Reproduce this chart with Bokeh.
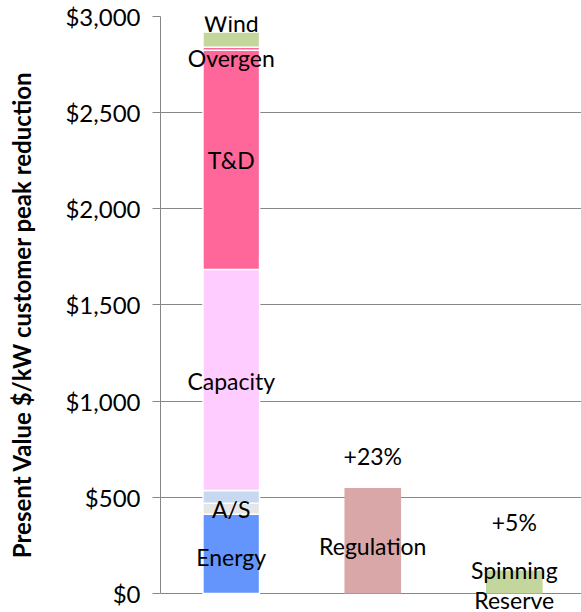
from bokeh.plotting import figure
from bokeh.models import Range1d, FixedTicker, NumeralTickFormatter, Label
from bokeh.embed import file_html
from bokeh.resources import INLINE

# ---- data ----
categories = ["Value stack", "Regulation", "Spinning Reserve"]
stack_segments = ["Energy", "A/S", "A/S other", "Capacity", "T&D", "Overgen", "Wind"]
stack_values = [412, 57, 66, 1150, 1140, 15, 80]
stack_labels = ["Energy", "A/S", "", "Capacity", "T&D", "Overgen", "Wind"]
regulation_value = 548
spinning_value = 120
increase_labels = ["+23%", "+5%"]
y_ticks = [0, 500, 1000, 1500, 2000, 2500, 3000]

# ---- styles / layout ----
stack_colors = ["#6395FC", "#E6E6E6", "#C6D9F1", "#FFCCFF", "#FF6699", "#FF6699", "#C3D69B"]
regulation_color = "#D9A7A7"
spinning_color = "#C3D69B"
stack_label_offsets = [-3, 0, 0, -1, 0, -9, None]  # px; None -> placed above segment
FONT = "Lato"
FS = "23px"
GRID = "#868686"

p = figure(width=581, height=612, output_backend="svg", toolbar_location=None,
           x_range=Range1d(0, 2.975), y_range=Range1d(-99, 3000),
           min_border_left=160, min_border_right=0, min_border_top=16, min_border_bottom=0)
p.outline_line_color = None
p.xaxis.visible = False
p.xgrid.visible = False
p.ygrid.grid_line_color = GRID
p.ygrid.grid_line_width = 1
p.ygrid.ticker = FixedTicker(ticks=y_ticks)

ax = p.yaxis[0]
ax.ticker = FixedTicker(ticks=y_ticks)
ax.bounds = (y_ticks[0], y_ticks[-1])
ax.formatter = NumeralTickFormatter(format="$0,0")
ax.axis_line_color = GRID
ax.major_tick_line_color = GRID
ax.major_tick_out = 8
ax.major_tick_in = 0
ax.minor_tick_line_color = None
ax.major_label_text_font = FONT
ax.major_label_text_font_size = "24px"
ax.major_label_text_color = "black"
ax.major_label_standoff = 12
ax.axis_label = "Present Value $/kW customer peak reduction"
ax.axis_label_text_font = FONT
ax.axis_label_text_font_style = "bold"
ax.axis_label_text_font_size = "24px"
ax.axis_label_text_color = "black"
ax.axis_label_standoff = 26

xs = [i + 0.5 for i in range(len(categories))]
bw = 0.4

# stacked bar
data = {"x": [xs[0]]}
for name, v in zip(stack_segments, stack_values):
    data[name] = [v]
p.vbar_stack(stack_segments, x="x", width=bw, source=data, color=stack_colors,
             line_color="white", line_width=1.5)

# other bars
p.vbar(x=[xs[1]], top=[regulation_value], width=bw, color=regulation_color, line_color=None)
p.vbar(x=[xs[2]], top=[spinning_value], width=bw, color=spinning_color, line_color=None)

def lab(x, y, text, yoff=0):
    p.add_layout(Label(x=x, y=y, text=text, y_offset=yoff, text_align="center",
                       text_baseline="middle", text_font=FONT, text_font_size=FS,
                       text_color="black"))

bottom = 0
for v, t, off in zip(stack_values, stack_labels, stack_label_offsets):
    top = bottom + v
    if t:
        if off is None:
            lab(xs[0], top, t, 9)
        else:
            lab(xs[0], (bottom + top) / 2, t, off)
    bottom = top

lab(xs[1], regulation_value / 2, "Regulation", -5)
lab(xs[1], regulation_value, increase_labels[0], 32)
lab(xs[2], spinning_value, increase_labels[1], 48)
lab(xs[2], spinning_value, "Spinning", 0)
lab(xs[2], spinning_value, "Reserve", -30)

open("out.html", "w").write(file_html(p, INLINE))
